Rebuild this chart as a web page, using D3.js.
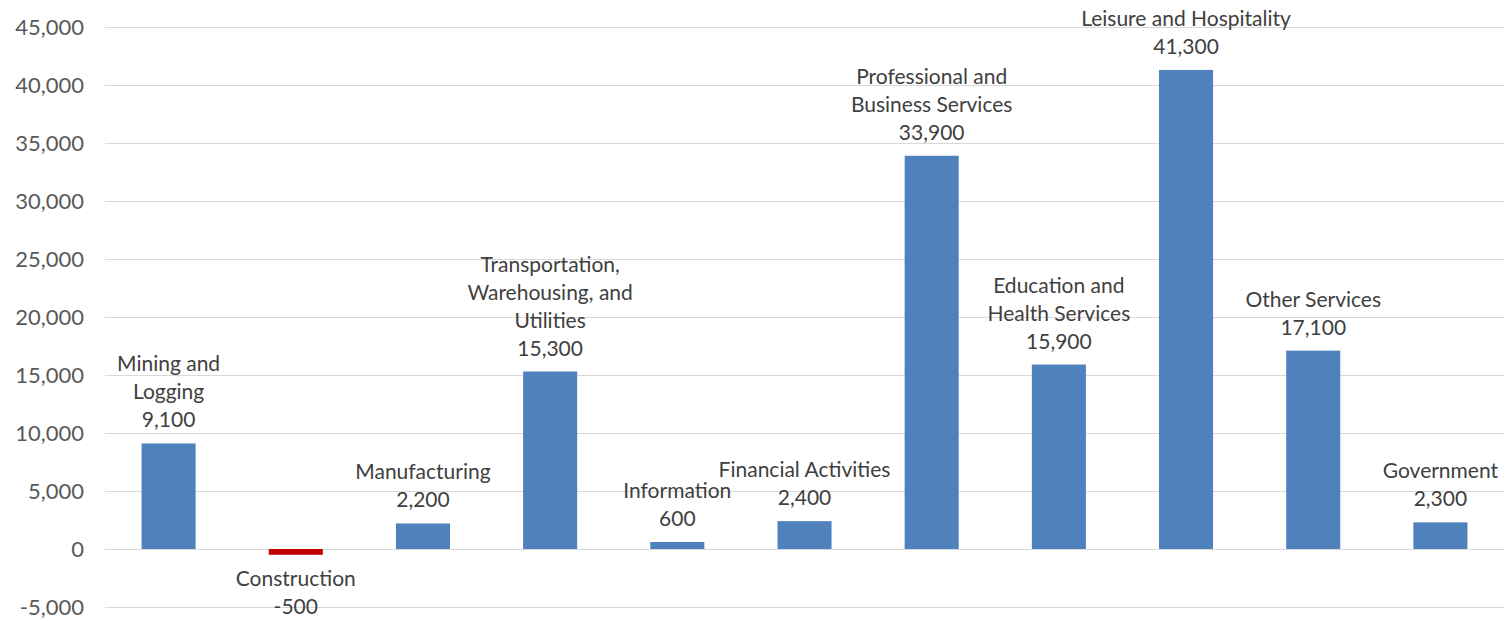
<!DOCTYPE html>
<html><head><meta charset="utf-8">
<script src="https://cdn.jsdelivr.net/npm/d3@7"></script>
<style>body{margin:0;background:#fff;}svg{display:block;}</style>
</head><body>
<svg id="chart" width="1509" height="621"></svg>
<script>
const categories = [
  ["Mining and", "Logging"],
  ["Construction"],
  ["Manufacturing"],
  ["Transportation,", "Warehousing, and", "Utilities"],
  ["Information"],
  ["Financial Activities"],
  ["Professional and", "Business Services"],
  ["Education and", "Health Services"],
  ["Leisure and Hospitality"],
  ["Other Services"],
  ["Government"]
];
const values = [9100, -500, 2200, 15300, 600, 2400, 33900, 15900, 41300, 17100, 2300];
const yTicks = [-5000, 0, 5000, 10000, 15000, 20000, 25000, 30000, 35000, 40000, 45000];

const W = 1509, H = 621;
const margin = {left: 105, right: 5, top: 27, bottom: 14};
const svg = d3.select("#chart");
const font = "Lato, 'Noto Sans', sans-serif";
const fmt = v => d3.format(",")(v).replace("\u2212", "-");

const x = d3.scaleBand().domain(d3.range(values.length))
  .range([margin.left, W - margin.right]).paddingInner(0.575).paddingOuter(0.2875);
const y = d3.scaleLinear().domain([-5000, 45000]).range([H - margin.bottom, margin.top]);

// gridlines
svg.append("g").selectAll("line").data(yTicks).join("line")
  .attr("x1", margin.left).attr("x2", W - margin.right)
  .attr("y1", d => Math.round(y(d)) + 0.5).attr("y2", d => Math.round(y(d)) + 0.5)
  .attr("stroke", "#d9d9d9").attr("stroke-width", 1);

// y axis labels
const yAxis = d3.axisLeft(y).tickValues(yTicks).tickFormat(fmt).tickSize(0).tickPadding(0);
const ga = svg.append("g").attr("transform", `translate(84,0)`).call(yAxis);
ga.select(".domain").remove();
ga.selectAll("text").attr("font-family", font).attr("font-size", 22).attr("fill", "#595959");

// bars
svg.append("g").selectAll("rect").data(values).join("rect")
  .attr("x", (d, i) => x(i)).attr("width", x.bandwidth())
  .attr("y", d => y(Math.max(0, d))).attr("height", d => Math.abs(y(d) - y(0)))
  .attr("fill", d => d < 0 ? "#C00000" : "#4F81BD");

// labels
const lh = 28;
const lab = svg.append("g").attr("font-family", font).attr("font-size", 21).attr("fill", "#404040").attr("text-anchor", "middle");
values.forEach((v, i) => {
  const lines = categories[i].concat([fmt(v)]);
  const cx = x(i) + x.bandwidth() / 2;
  lines.forEach((t, j) => {
    let yy;
    if (v >= 0) yy = y(v) - 16 - (lines.length - 1 - j) * lh;
    else yy = y(v) + 31 + j * lh;
    lab.append("text").attr("x", cx).attr("y", yy).text(t);
  });
});
</script>
</body></html>
